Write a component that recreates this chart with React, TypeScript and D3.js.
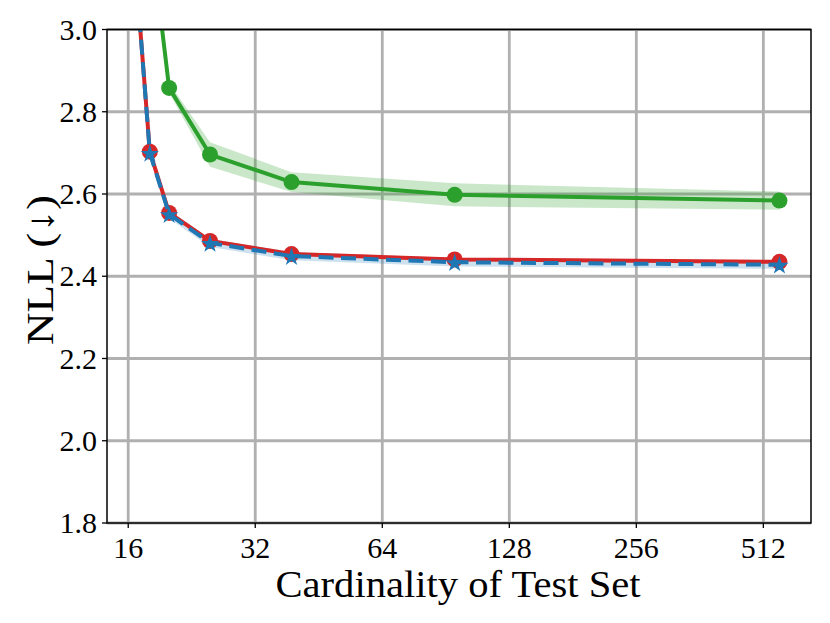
import React from 'react'
import * as d3 from 'd3'

// cardinality of the test set (x), NLL values per method (y)
const cardinality = [17, 18, 20, 25, 39, 95, 559]
const greenNll = [null, 3.25, 2.858, 2.696, 2.629, 2.598, 2.584]
const greenStd = [null, 0.012, 0.012, 0.03, 0.024, 0.028, 0.022]
const redNll = [3.03, 2.703, 2.554, 2.486, 2.454, 2.441, 2.435]
const redStd = [0.004, 0.004, 0.004, 0.004, 0.004, 0.004, 0.004]
const blueNll = [3.03, 2.700, 2.551, 2.481, 2.449, 2.434, 2.428]
const blueStd = [0.01, 0.01, 0.01, 0.01, 0.01, 0.01, 0.01]

const xTicks = [16, 32, 64, 128, 256, 512]
const yTicks = [1.8, 2.0, 2.2, 2.4, 2.6, 2.8, 3.0]

const W = 830
const H = 623
const left = 107
const right = 811
const top = 29.5
const bottom = 523

const FONT = "'Liberation Serif', 'DejaVu Serif', serif"

type Pt = { x: number; y: number; s: number }

function series(vals: (number | null)[], std: (number | null)[]): Pt[] {
    const out: Pt[] = []
    vals.forEach((v, i) => {
        if (v != null) out.push({ x: cardinality[i], y: v, s: std[i] ?? 0 })
    })
    return out
}

export default function App() {
    const x = d3.scaleLog().base(2).domain([14.25, 664]).range([left, right])
    const y = d3.scaleLinear().domain([1.8, 3.0]).range([bottom, top])

    const line = d3.line<Pt>().x(d => x(d.x)).y(d => y(d.y))
    const band = d3.area<Pt>().x(d => x(d.x)).y0(d => y(d.y - d.s)).y1(d => y(d.y + d.s))

    const green = series(greenNll, greenStd)
    const red = series(redNll, redStd)
    const blue = series(blueNll, blueStd)

    const star = d3.symbol(d3.symbolStar, 105)()

    return (
        <div style={{ position: 'fixed', left: 0, top: 0 }}>
            <svg width={W} height={H} style={{ display: 'block', background: '#fff' }}>
                <defs>
                    <clipPath id="plot">
                        <rect x={left} y={top} width={right - left} height={bottom - top} />
                    </clipPath>
                </defs>

                {/* grid */}
                <g stroke="#b0b0b0" strokeWidth={2.8}>
                    {xTicks.map(t => <line key={'gx' + t} x1={x(t)} x2={x(t)} y1={top} y2={bottom} />)}
                    {yTicks.map(t => <line key={'gy' + t} x1={left} x2={right} y1={y(t)} y2={y(t)} />)}
                </g>

                <g clipPath="url(#plot)">
                    <path d={band(green) ?? ''} fill="#2ca02c" fillOpacity={0.25} />
                    <path d={line(green) ?? ''} fill="none" stroke="#2ca02c" strokeWidth={4} strokeLinejoin="round" />
                    {green.map((d, i) => <circle key={'g' + i} cx={x(d.x)} cy={y(d.y)} r={8} fill="#2ca02c" />)}

                    <path d={band(red) ?? ''} fill="#d62728" fillOpacity={0.25} />
                    <path d={band(blue) ?? ''} fill="#1f77b4" fillOpacity={0.22} />
                    <path d={line(red) ?? ''} fill="none" stroke="#d62728" strokeWidth={4} strokeLinejoin="round" />
                    {red.map((d, i) => <circle key={'r' + i} cx={x(d.x)} cy={y(d.y)} r={8} fill="#d62728" />)}

                    <path d={line(blue) ?? ''} fill="none" stroke="#1f77b4" strokeWidth={4} strokeDasharray="15 7.5" />
                    {blue.map((d, i) => (
                        <path key={'b' + i} d={star ?? ''} transform={`translate(${x(d.x)},${y(d.y) + 1})`} fill="#1f77b4" />
                    ))}
                </g>

                {/* spines */}
                <rect x={left} y={top} width={right - left} height={bottom - top} fill="none" stroke="#000" strokeWidth={1.5} />

                {/* ticks */}
                <g stroke="#000" strokeWidth={1.3}>
                    {xTicks.map(t => <line key={'tx' + t} x1={x(t)} x2={x(t)} y1={bottom} y2={bottom + 5} />)}
                    {yTicks.map(t => <line key={'ty' + t} x1={left - 5} x2={left} y1={y(t)} y2={y(t)} />)}
                </g>

                <g fontFamily={FONT} fontSize={30} fill="#000">
                    {xTicks.map(t => (
                        <text key={'lx' + t} x={x(t)} y={558} textAnchor="middle">{t}</text>
                    ))}
                    {yTicks.map(t => (
                        <text key={'ly' + t} x={97} y={y(t) + 10} textAnchor="end">{t.toFixed(1)}</text>
                    ))}
                </g>

                <text x={458} y={597} textAnchor="middle" fontFamily={FONT} fontSize={38}
                    textLength={365} lengthAdjust="spacingAndGlyphs">Cardinality of Test Set</text>
                <text transform="translate(53,270) rotate(-90)" textAnchor="middle" fontFamily={FONT} fontSize={38}
                    textLength={150} lengthAdjust="spacingAndGlyphs">NLL (↓)</text>
            </svg>
        </div>
    )
}
